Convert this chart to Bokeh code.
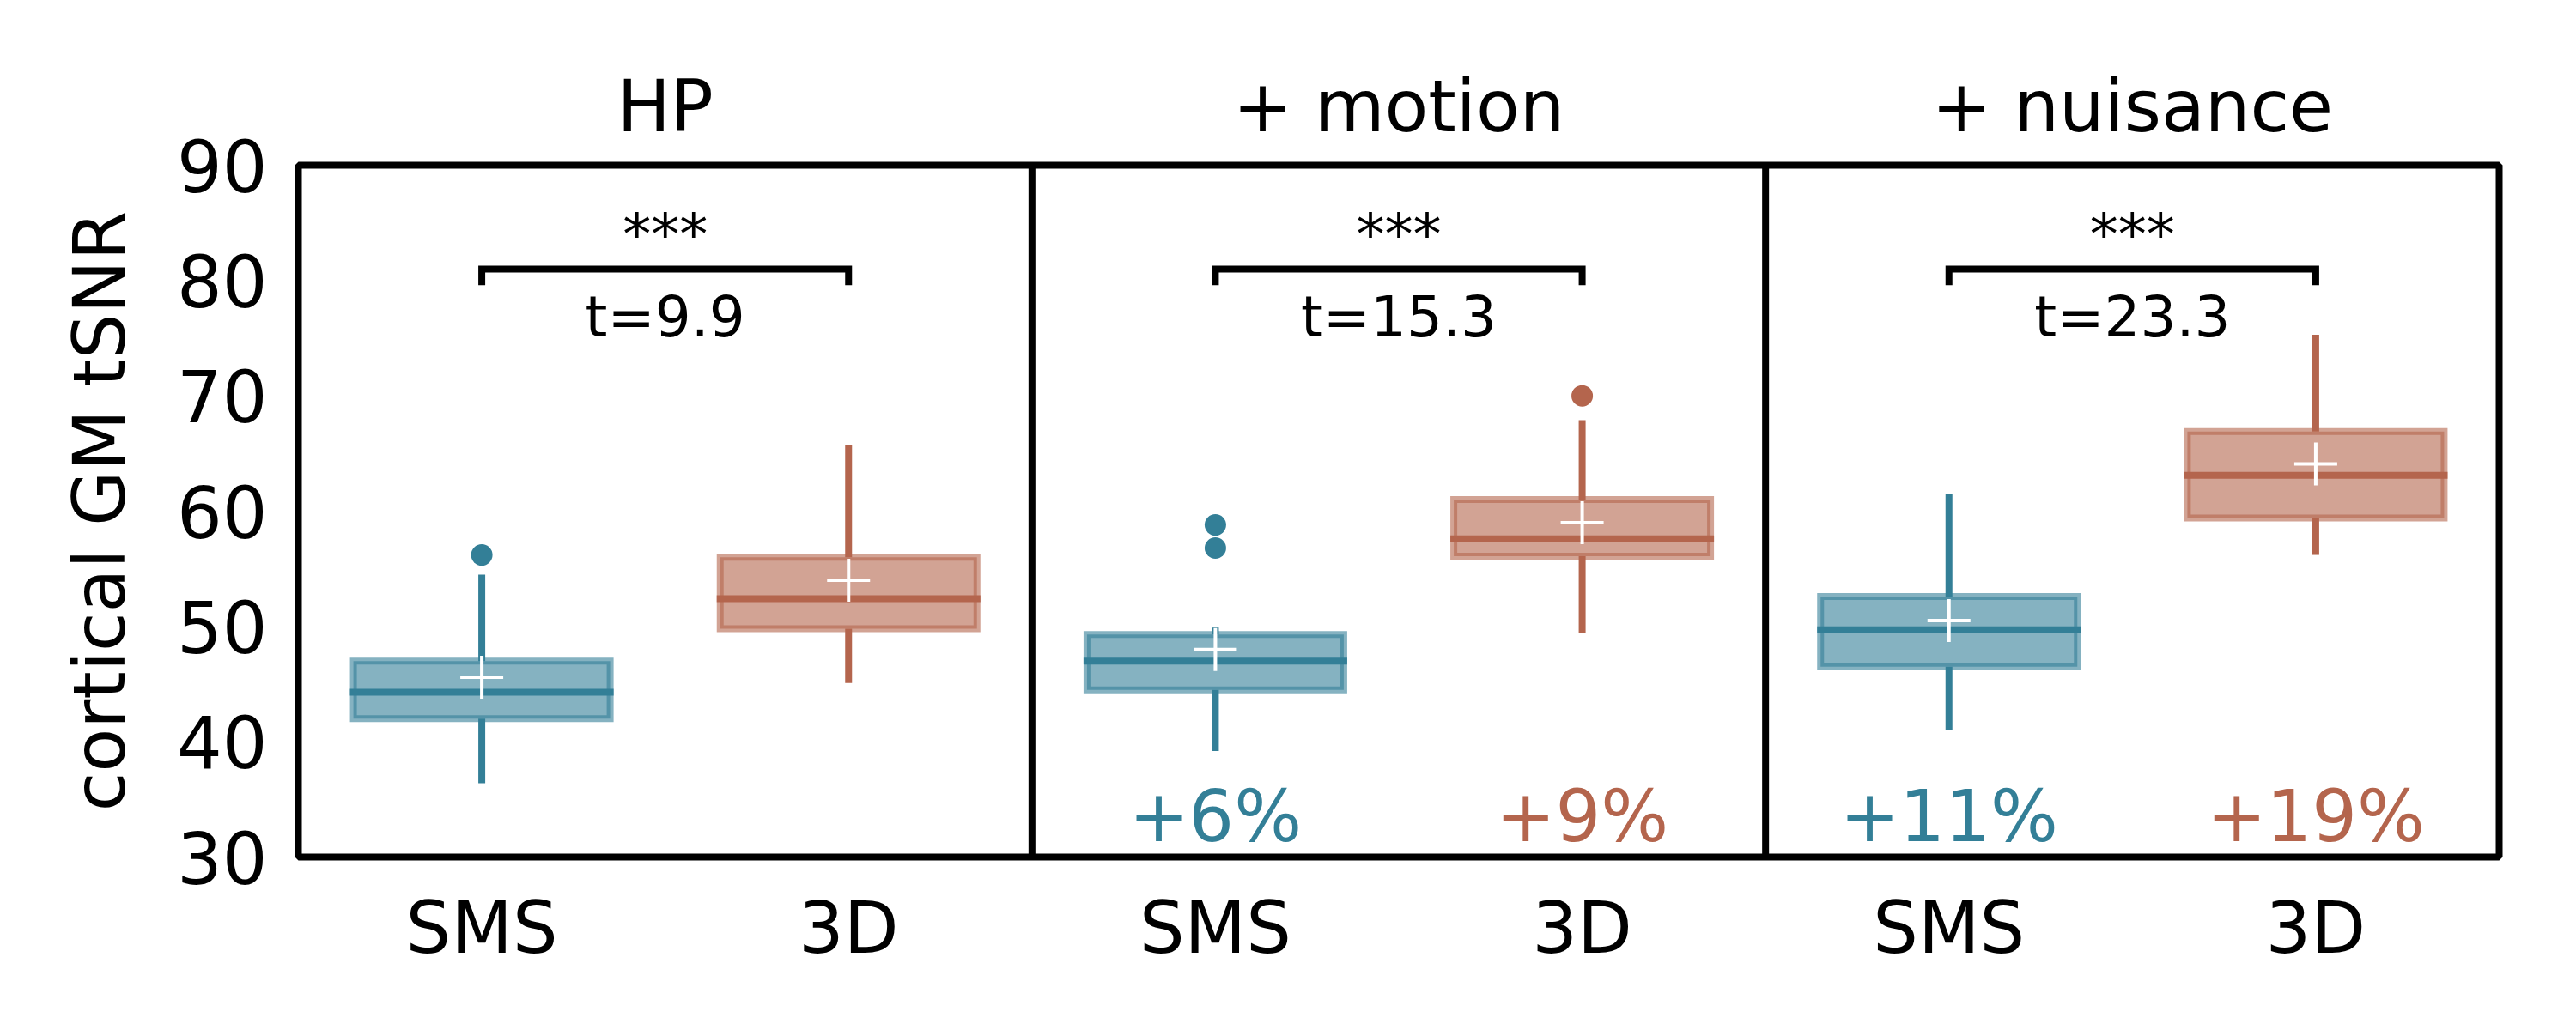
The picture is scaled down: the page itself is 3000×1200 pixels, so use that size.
from bokeh.plotting import figure
from bokeh.models import ColumnDataSource, Range1d, FixedTicker, LinearAxis, Span
from bokeh.core.properties import value
from bokeh.embed import file_html
from bokeh.resources import INLINE

# ---------------- data ----------------
conditions = ["HP", "+ motion", "+ nuisance"]
groups = ["SMS", "3D"]
group_colors = ["#337f97", "#b4654d"]

# each entry: [SMS, 3D] for one condition
whisker_lo = [[36.4, 45.1], [39.2, 49.4], [41.0, 56.2]]
q1 = [[42.0, 49.8], [44.5, 56.1], [46.5, 59.4]]
median = [[44.3, 52.4], [47.0, 57.6], [49.7, 63.1]]
q3 = [[47.0, 56.0], [49.3, 61.0], [52.6, 66.9]]
whisker_hi = [[54.5, 65.7], [49.9, 67.9], [61.5, 75.3]]
means = [[45.6, 54.0], [48.0, 59.0], [50.5, 64.1]]
outliers = [[[56.2], []], [[56.8, 58.8], [70.0]], [[], []]]
significance = ["***", "***", "***"]
t_values = ["t=9.9", "t=15.3", "t=23.3"]
pct_change = [["", ""], ["+6%", "+9%"], ["+11%", "+19%"]]
y_ticks = [30, 40, 50, 60, 70, 80, 90]

# ---------------- styling ----------------
FONT = "DejaVu Sans"
BIG = "83px"
SMALL = "66px"
BOX_W = 0.7
LW = 8
BRACKET_Y = 81.0
BRACKET_DROP = 1.4
STAR_Y = 84.0
T_Y = 76.85
PCT_Y = 33.5

# ---------------- build sources ----------------
xs, cols, lo, b1, med, b3, hi, mn = [], [], [], [], [], [], [], []
ox, oy, oc = [], [], []
px, py, pt, pc = [], [], [], []
for k in range(len(conditions)):
    for g in range(len(groups)):
        x = 2 * k + g
        xs.append(x)
        cols.append(group_colors[g])
        lo.append(whisker_lo[k][g]); b1.append(q1[k][g]); med.append(median[k][g])
        b3.append(q3[k][g]); hi.append(whisker_hi[k][g]); mn.append(means[k][g])
        for v in outliers[k][g]:
            ox.append(x); oy.append(v); oc.append(group_colors[g])
        if pct_change[k][g]:
            px.append(x); py.append(PCT_Y); pt.append(pct_change[k][g]); pc.append(group_colors[g])

src = ColumnDataSource(dict(
    x=xs, color=cols, lo=lo, q1=b1, med=med, q3=b3, hi=hi, mean=mn,
    left=[x - BOX_W / 2 for x in xs], right=[x + BOX_W / 2 for x in xs],
))
out_src = ColumnDataSource(dict(x=ox, y=oy, color=oc))
pct_src = ColumnDataSource(dict(x=px, y=py, text=pt, color=pc))

centers = [2 * k + 0.5 for k in range(len(conditions))]
ann_src = ColumnDataSource(dict(
    x=centers, star=significance, t=t_values,
    star_y=[STAR_Y] * len(centers), t_y=[T_Y] * len(centers),
))
br_xs = [[2 * k, 2 * k, 2 * k + 1, 2 * k + 1] for k in range(len(conditions))]
br_ys = [[BRACKET_Y - BRACKET_DROP, BRACKET_Y, BRACKET_Y, BRACKET_Y - BRACKET_DROP]
         for _ in range(len(conditions))]

# ---------------- figure ----------------
p = figure(width=2984, height=1184, output_backend="svg", toolbar_location=None,
           x_range=Range1d(-0.5, 2 * len(conditions) - 0.5), y_range=Range1d(30, 90),
           min_border_left=347, min_border_right=74, min_border_top=192, min_border_bottom=186)
p.background_fill_color = "white"
p.border_fill_color = "white"
p.xgrid.visible = False
p.ygrid.visible = False
p.outline_line_color = "black"
p.outline_line_width = LW

bottom_axis = p.below[0]
left_axis = p.left[0]

# below axis: group labels
bottom_axis.ticker = FixedTicker(ticks=xs)
bottom_axis.major_label_overrides = {float(x): groups[i % 2] for i, x in enumerate(xs)}
# above axis: condition titles
top = LinearAxis(ticker=FixedTicker(ticks=centers),
                 major_label_overrides={float(c): conditions[i] for i, c in enumerate(centers)})
p.add_layout(top, "above")

left_axis.ticker = FixedTicker(ticks=y_ticks)
left_axis.axis_label = "cortical GM tSNR"

for ax in [bottom_axis, left_axis, top]:
    ax.axis_line_color = None
    ax.major_tick_line_color = None
    ax.minor_tick_line_color = None
    ax.major_tick_out = 0
    ax.major_tick_in = 0
    ax.major_label_text_font = FONT
    ax.major_label_text_font_size = BIG
    ax.major_label_text_color = "black"
    ax.axis_label_text_font = FONT
    ax.axis_label_text_font_size = BIG
    ax.axis_label_text_font_style = "normal"
    ax.axis_label_text_color = "black"

bottom_axis.major_label_standoff = 34
top.major_label_standoff = 20
left_axis.major_label_standoff = 36
left_axis.axis_label_standoff = 38

# panel dividers
for k in range(1, len(conditions)):
    p.add_layout(Span(location=2 * k - 0.5, dimension="height", line_color="black", line_width=LW))

# boxes
p.quad(left="left", right="right", bottom="q1", top="q3", source=src,
       fill_color="color", fill_alpha=0.6, line_color="color", line_alpha=0.6,
       line_width=LW, line_join="miter")
# whiskers
p.segment(x0="x", y0="lo", x1="x", y1="q1", source=src, line_color="color", line_width=LW)
p.segment(x0="x", y0="q3", x1="x", y1="hi", source=src, line_color="color", line_width=LW)
# medians
p.segment(x0="left", y0="med", x1="right", y1="med", source=src, line_color="color",
          line_width=LW, line_cap="square")
# outliers
p.scatter(x="x", y="y", source=out_src, size=25, marker="circle",
          fill_color="color", line_color="color", line_width=0)
# means
p.scatter(x="x", y="mean", source=src, marker="cross", size=50,
          line_color="white", line_width=4)

# significance brackets
p.multi_line(xs=br_xs, ys=br_ys, line_color="black", line_width=LW, line_join="miter")
p.text(x="x", y="star_y", text="star", source=ann_src, text_font=value(FONT),
       text_font_size=value(SMALL), text_align="center", text_baseline="alphabetic",
       text_color="black")
p.text(x="x", y="t_y", text="t", source=ann_src, text_font=value(FONT),
       text_font_size=value(SMALL), text_align="center", text_baseline="alphabetic",
       text_color="black")
# percent change labels
p.text(x="x", y="y", text="text", source=pct_src, text_font=value(FONT),
       text_font_size=value(BIG), text_align="center", text_baseline="alphabetic",
       text_color="color")

open("out.html", "w").write(file_html(p, INLINE))
